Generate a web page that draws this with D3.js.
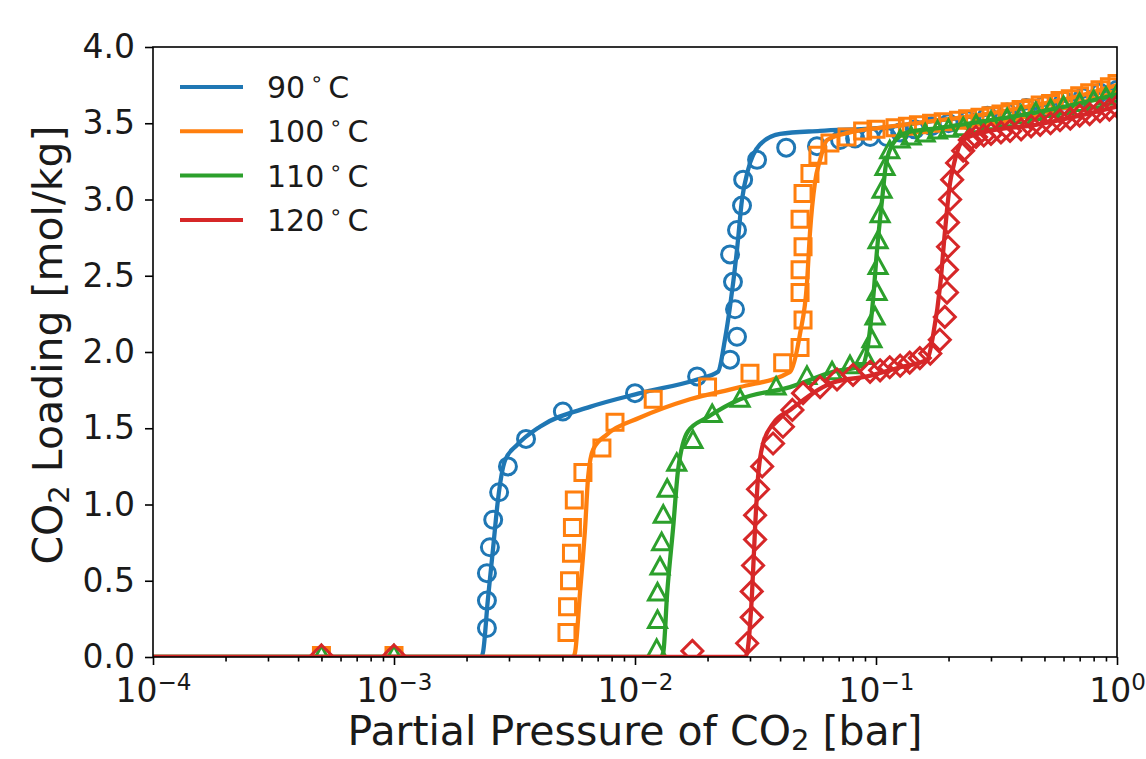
<!DOCTYPE html>
<html>
<head>
<meta charset="utf-8">
<title>CO2 loading isotherms</title>
<style>
  body { margin: 0; background: #fff; }
  svg text { font-family: "DejaVu Sans", sans-serif; fill: #1a1a1a; }
</style>
</head>
<body>
<svg width="1146" height="759"></svg>
<script src="https://d3js.org/d3.v7.min.js"></script>
<script>
// series labels, colours, marker shapes
var temps = ["90", "100", "110", "120"];
var colors = ["#1f77b4", "#ff7f0e", "#2ca02c", "#d62728"];
var shapes = ["circle", "square", "triangle", "diamond"];

// axis ticks
var xTicks = [1e-4, 1e-3, 1e-2, 1e-1, 1];
var xExps = ["\u22124", "\u22123", "\u22122", "\u22121", "0"];
var yTicks = [0, 0.5, 1, 1.5, 2, 2.5, 3, 3.5, 4];

// fitted curves, [pressure bar, loading mol/kg]
var fit90 = [[1e-4,0],[2.30e-3,0],[2.34e-3,0.03],[2.45e-3,0.37],[2.58e-3,0.72],[2.70e-3,1.03],[2.89e-3,1.29],[3.24e-3,1.39],[4.03e-3,1.51],[6.50e-3,1.64],[1.05e-2,1.73],[1.81e-2,1.82],[2.21e-2,1.87],[2.36e-2,2.08],[2.48e-2,2.30],[2.65e-2,2.67],[2.78e-2,3.00],[2.94e-2,3.19],[3.30e-2,3.36],[4.00e-2,3.43],[5.86e-2,3.45],[0.104,3.47],[0.184,3.52],[0.30,3.56],[0.46,3.61],[0.70,3.67],[1.0,3.73]];
var fit100 = [[1e-4,0],[5.53e-3,0],[5.64e-3,0.03],[5.91e-3,0.42],[6.21e-3,0.85],[6.39e-3,1.18],[6.70e-3,1.36],[7.66e-3,1.46],[1.05e-2,1.57],[1.69e-2,1.69],[2.73e-2,1.77],[4.40e-2,1.87],[4.84e-2,2.12],[5.17e-2,2.45],[5.32e-2,2.78],[5.58e-2,3.11],[5.86e-2,3.26],[6.27e-2,3.39],[7.80e-2,3.44],[0.104,3.47],[0.184,3.52],[0.30,3.565],[0.46,3.62],[0.70,3.68],[1.0,3.75]];
var fit110 = [[1e-4,0],[1.28e-2,0],[1.31e-2,0.03],[1.36e-2,0.42],[1.44e-2,0.85],[1.51e-2,1.23],[1.66e-2,1.48],[1.99e-2,1.57],[2.73e-2,1.69],[4.40e-2,1.77],[6.64e-2,1.87],[8.75e-2,1.91],[9.27e-2,2.05],[9.72e-2,2.34],[0.101,2.67],[0.106,3.00],[0.110,3.23],[0.118,3.37],[0.135,3.44],[0.184,3.47],[0.30,3.52],[0.46,3.57],[0.70,3.63],[1.0,3.69]];
var fit120 = [[1e-4,0],[2.86e-2,0],[2.92e-2,0.03],[3.06e-2,0.42],[3.15e-2,0.85],[3.24e-2,1.18],[3.40e-2,1.40],[3.74e-2,1.53],[4.40e-2,1.62],[6.64e-2,1.80],[9.18e-2,1.84],[0.126,1.90],[0.163,1.95],[0.173,2.12],[0.185,2.45],[0.193,2.78],[0.203,3.11],[0.209,3.21],[0.230,3.39],[0.278,3.44],[0.46,3.49],[0.70,3.55],[1.0,3.61]];

// measured points
var pts90 = [[5.0e-4,0.01],[1.0e-3,0.01],[2.43e-3,0.19],[2.43e-3,0.37],[2.43e-3,0.55],[2.50e-3,0.72],[2.58e-3,0.90],[2.73e-3,1.08],[2.97e-3,1.25],[3.53e-3,1.43],[5.02e-3,1.61],[1.0e-2,1.73],[1.81e-2,1.84],[2.48e-2,1.95],[2.65e-2,2.10],[2.60e-2,2.28],[2.55e-2,2.46],[2.48e-2,2.64],[2.65e-2,2.80],[2.78e-2,2.96],[2.81e-2,3.13],[3.21e-2,3.26],[4.24e-2,3.34],[5.69e-2,3.35],[7.09e-2,3.39],[8.19e-2,3.40],[9.45e-2,3.41],[0.111,3.41],[0.126,3.44],[0.145,3.46],[0.17,3.48],[0.20,3.50],[0.24,3.52],[0.29,3.55],[0.35,3.57],[0.42,3.60],[0.50,3.62],[0.60,3.65],[0.72,3.67],[0.85,3.70],[1.0,3.72]];
var pts100 = [[5.0e-4,0.01],[1.0e-3,0.01],[5.22e-3,0.16],[5.25e-3,0.33],[5.35e-3,0.50],[5.45e-3,0.68],[5.50e-3,0.85],[5.60e-3,1.03],[6.08e-3,1.21],[7.29e-3,1.37],[8.26e-3,1.54],[1.19e-2,1.69],[2.0e-2,1.77],[3.0e-2,1.86],[4.1e-2,1.93],[4.84e-2,2.03],[4.98e-2,2.21],[4.84e-2,2.39],[4.84e-2,2.54],[4.98e-2,2.69],[4.84e-2,2.87],[4.98e-2,3.04],[5.32e-2,3.17],[5.74e-2,3.29],[6.44e-2,3.37],[7.58e-2,3.41],[0.088,3.45],[0.10,3.46],[0.12,3.47],[0.135,3.48],[0.15,3.49],[0.17,3.50],[0.19,3.51],[0.22,3.52],[0.24,3.53],[0.27,3.54],[0.30,3.55],[0.33,3.56],[0.36,3.575],[0.40,3.59],[0.44,3.60],[0.48,3.62],[0.53,3.63],[0.58,3.65],[0.64,3.66],[0.70,3.68],[0.77,3.70],[0.85,3.72],[0.93,3.74],[1.0,3.76]];
var pts110 = [[5.0e-4,0.01],[1.0e-3,0.01],[1.23e-2,0.05],[1.24e-2,0.24],[1.24e-2,0.42],[1.27e-2,0.59],[1.29e-2,0.75],[1.31e-2,0.93],[1.36e-2,1.10],[1.49e-2,1.27],[1.74e-2,1.42],[2.09e-2,1.59],[2.73e-2,1.69],[3.85e-2,1.77],[5.17e-2,1.84],[6.57e-2,1.87],[7.80e-2,1.91],[9.0e-2,1.97],[9.62e-2,2.08],[9.91e-2,2.23],[0.101,2.39],[0.102,2.56],[0.102,2.73],[0.104,2.90],[0.106,3.06],[0.109,3.21],[0.114,3.32],[0.126,3.39],[0.14,3.41],[0.16,3.43],[0.18,3.45],[0.20,3.46],[0.23,3.47],[0.26,3.49],[0.30,3.51],[0.35,3.53],[0.40,3.55],[0.46,3.57],[0.53,3.59],[0.60,3.61],[0.70,3.63],[0.80,3.65],[0.90,3.67],[1.0,3.69]];
var pts120 = [[5.0e-4,0.01],[1.0e-3,0.01],[1.73e-2,0.04],[2.92e-2,0.09],[3.05e-2,0.26],[3.05e-2,0.43],[3.09e-2,0.60],[3.15e-2,0.77],[3.15e-2,0.93],[3.24e-2,1.10],[3.37e-2,1.25],[3.74e-2,1.40],[4.11e-2,1.51],[4.5e-2,1.62],[4.98e-2,1.73],[5.86e-2,1.77],[6.89e-2,1.82],[8.03e-2,1.85],[9.45e-2,1.87],[0.104,1.88],[0.114,1.90],[0.126,1.91],[0.138,1.93],[0.152,1.96],[0.168,1.99],[0.184,2.08],[0.193,2.23],[0.197,2.39],[0.197,2.54],[0.199,2.69],[0.199,2.85],[0.203,3.00],[0.207,3.13],[0.217,3.24],[0.230,3.32],[0.245,3.39],[0.26,3.41],[0.28,3.42],[0.30,3.43],[0.33,3.44],[0.36,3.45],[0.40,3.46],[0.44,3.48],[0.48,3.49],[0.53,3.50],[0.58,3.52],[0.64,3.53],[0.70,3.55],[0.77,3.56],[0.85,3.58],[0.93,3.59],[1.0,3.61]];

var fits = [fit90, fit100, fit110, fit120];
var points = [pts90, pts100, pts110, pts120];

// layout
var svg = d3.select("svg");
var plotLeft = 153, plotRight = 1117, plotTop = 47, plotBottom = 657;

var x = d3.scaleLog().domain([1e-4, 1]).range([plotLeft, plotRight]);
var y = d3.scaleLinear().domain([0, 4]).range([plotBottom, plotTop]);

svg.append("rect").attr("width", 1146).attr("height", 759).attr("fill", "#fff");

svg.append("clipPath").attr("id", "plotclip")
  .append("rect")
  .attr("x", plotLeft).attr("y", plotTop)
  .attr("width", plotRight - plotLeft).attr("height", plotBottom - plotTop);

var plot = svg.append("g").attr("clip-path", "url(#plotclip)");

var line = d3.line()
  .x(function (d) { return x(d[0]); })
  .y(function (d) { return y(d[1]); })
  .curve(d3.curveMonotoneX);

function markerPath(shape) {
  if (shape == "circle") return d3.symbol(d3.symbolCircle, Math.PI * 8.5 * 8.5)();
  if (shape == "square") return "M-8,-8H8V8H-8Z";
  if (shape == "triangle") return "M0,-9.5L9,7H-9Z";
  return "M0,-10.5L10.5,0L0,10.5L-10.5,0Z";
}

fits.forEach(function (fit, i) {
  plot.append("path")
    .datum(fit)
    .attr("d", line)
    .attr("fill", "none")
    .attr("stroke", colors[i])
    .attr("stroke-width", 4.3)
    .attr("stroke-linejoin", "round");

  plot.selectAll(".m" + i)
    .data(points[i])
    .enter()
    .append("path")
    .attr("class", "m" + i)
    .attr("d", markerPath(shapes[i]))
    .attr("transform", function (d) { return "translate(" + x(d[0]) + "," + y(d[1]) + ")"; })
    .attr("fill", "none")
    .attr("stroke", colors[i])
    .attr("stroke-width", 3);
});

// frame
svg.append("rect")
  .attr("x", plotLeft).attr("y", plotTop)
  .attr("width", plotRight - plotLeft).attr("height", plotBottom - plotTop)
  .attr("fill", "none")
  .attr("stroke", "#000")
  .attr("stroke-width", 1.6);

// x axis, major + minor ticks
var minor = [];
for (var e = -4; e < 0; e++) {
  for (var k = 2; k < 10; k++) minor.push(k * Math.pow(10, e));
}

var xMinor = svg.append("g")
  .attr("transform", "translate(0," + plotBottom + ")")
  .call(d3.axisBottom(x).tickValues(minor).tickSize(4.5).tickFormat(""));
xMinor.select(".domain").remove();

var xAxis = svg.append("g")
  .attr("transform", "translate(0," + plotBottom + ")")
  .call(d3.axisBottom(x).tickValues(xTicks).tickSize(8).tickPadding(14));
xAxis.select(".domain").remove();
xAxis.selectAll(".tick text").each(function (d, i) {
  var t = d3.select(this).text("").attr("font-size", 33).attr("font-family", null);
  t.append("tspan").text("10");
  t.append("tspan").attr("dy", -12).attr("font-size", 23).text(xExps[i]);
});

var yAxis = svg.append("g")
  .attr("transform", "translate(" + plotLeft + ",0)")
  .call(d3.axisLeft(y).tickValues(yTicks).tickSize(8).tickPadding(10).tickFormat(d3.format(".1f")));
yAxis.select(".domain").remove();
yAxis.selectAll(".tick text").attr("font-size", 33).attr("font-family", null);

svg.selectAll(".tick line").attr("stroke", "#000").attr("stroke-width", 1.6);

// axis labels
var xl = svg.append("text")
  .attr("x", (plotLeft + plotRight) / 2)
  .attr("y", 745)
  .attr("text-anchor", "middle")
  .attr("font-size", 41);
xl.append("tspan").text("Partial Pressure of CO");
xl.append("tspan").attr("dy", 5).attr("font-size", 29).text("2");
xl.append("tspan").attr("dy", -5).text(" [bar]");

var yl = svg.append("text")
  .attr("transform", "translate(62,345) rotate(-90)")
  .attr("text-anchor", "middle")
  .attr("font-size", 41);
yl.append("tspan").text("CO");
yl.append("tspan").attr("dy", 7).attr("font-size", 29).text("2");
yl.append("tspan").attr("dy", -7).text(" Loading [mol/kg]");

// legend
var legend = svg.append("g");
temps.forEach(function (t, i) {
  var ly = 87 + i * 44.3;
  legend.append("line")
    .attr("x1", 180).attr("x2", 243)
    .attr("y1", ly).attr("y2", ly)
    .attr("stroke", colors[i])
    .attr("stroke-width", 4);
  var lt = legend.append("text")
    .attr("x", 267).attr("y", ly + 11)
    .attr("font-size", 30);
  lt.append("tspan").text(t);
  lt.append("tspan").attr("dx", 5).attr("dy", -12).attr("font-size", 21).text("\u2218");
  lt.append("tspan").attr("dx", 5).attr("dy", 12).text("C");
});
</script>
</body>
</html>
